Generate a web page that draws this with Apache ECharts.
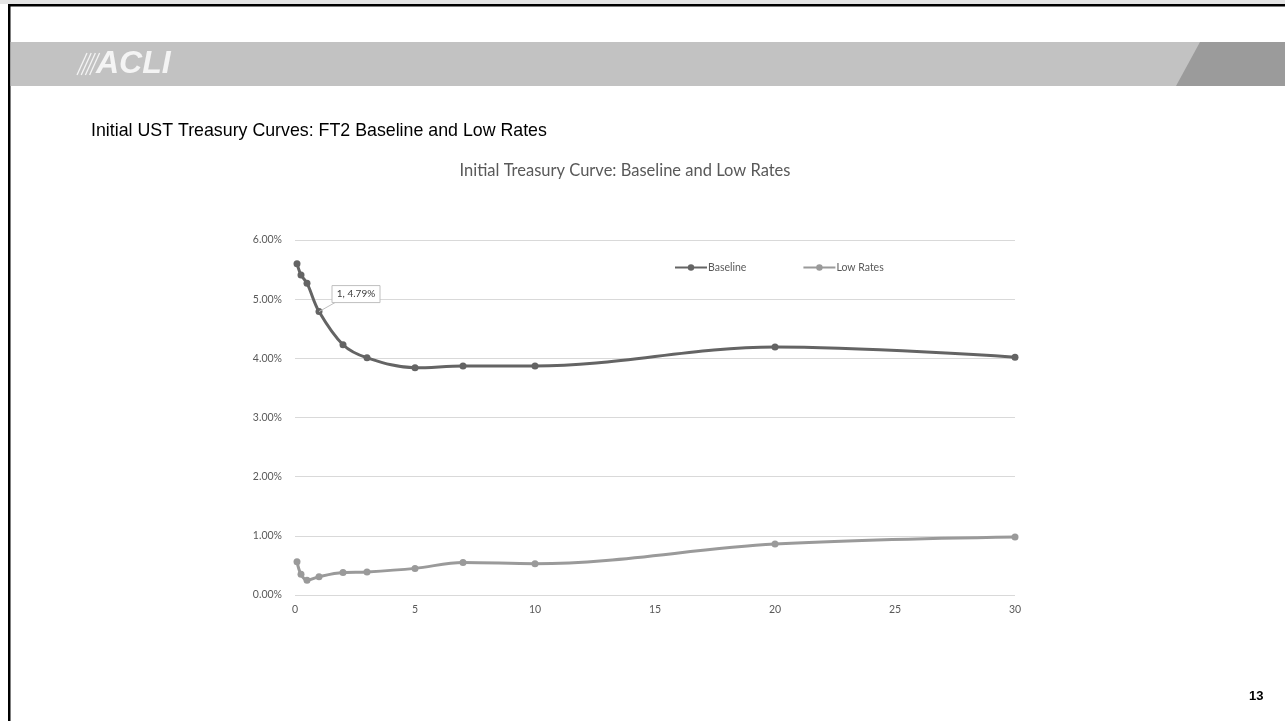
<!DOCTYPE html>
<html>
<head>
<meta charset="utf-8">
<script src="https://cdn.jsdelivr.net/npm/echarts@6/dist/echarts.min.js"></script>
<style>
  html, body { margin: 0; padding: 0; background: #fff; }
  #chart { width: 1285px; height: 721px; }
</style>
</head>
<body>
<div id="chart"></div>
<script>
// Maturities in years (1M, 3M, 6M, 1Y, 2Y, 3Y, 5Y, 7Y, 10Y, 20Y, 30Y)
const maturities = [1 / 12, 0.25, 0.5, 1, 2, 3, 5, 7, 10, 20, 30];
// Yields in percent
const baselineRates = [5.60, 5.41, 5.27, 4.79, 4.23, 4.01, 3.84, 3.87, 3.87, 4.19, 4.02];
const lowRates = [0.56, 0.35, 0.25, 0.31, 0.38, 0.39, 0.45, 0.55, 0.53, 0.86, 0.98];
const seriesNames = ['Baseline', 'Low Rates'];
const xTicks = [0, 5, 10, 15, 20, 25, 30];
const yTicks = [0, 1, 2, 3, 4, 5, 6];
// Point that carries a data callout
const calloutIndex = 3;

const toPairs = (xs, ys) => xs.map((x, i) => [x, ys[i]]);

const chart = echarts.init(document.getElementById('chart'), null, { renderer: 'canvas' });

const axisFont = { color: '#595959', fontSize: 10.5, fontFamily: 'Lato, "Noto Sans", sans-serif' };

const option = {
  backgroundColor: '#ffffff',
  animation: false,
  title: {
    text: 'Initial Treasury Curve: Baseline and Low Rates',
    left: 620,
    textAlign: 'center',
    top: 157,
    textStyle: { color: '#595959', fontSize: 16.5, fontWeight: 'normal', fontFamily: 'Lato, "Noto Sans", sans-serif' }
  },
  legend: {
    left: 669,
    top: 257,
    itemWidth: 32,
    itemHeight: 8,
    itemGap: 56,
    data: seriesNames,
    textStyle: { color: '#595959', fontSize: 10.5, fontFamily: 'Lato, "Noto Sans", sans-serif', padding: [0, 0, 0, -4] }
  },
  grid: { left: 295, right: 270, top: 240, bottom: 126 },
  xAxis: {
    type: 'value',
    min: xTicks[0],
    max: xTicks[xTicks.length - 1],
    interval: 5,
    axisLine: { show: false },
    axisTick: { show: false },
    splitLine: { show: false },
    axisLabel: Object.assign({ margin: 9 }, axisFont)
  },
  yAxis: {
    type: 'value',
    min: yTicks[0],
    max: yTicks[yTicks.length - 1],
    interval: 1,
    axisLine: { show: false },
    axisTick: { show: false },
    splitLine: { lineStyle: { color: '#d9d9d9', width: 1 } },
    axisLabel: Object.assign({ margin: 13, formatter: v => v.toFixed(2) + '%' }, axisFont)
  },
  series: [
    {
      name: seriesNames[0],
      type: 'line',
      smooth: 0.35,
      data: toPairs(maturities, baselineRates),
      symbol: 'circle',
      symbolSize: 7,
      itemStyle: { color: '#646464' },
      lineStyle: { color: '#646464', width: 3 }
    },
    {
      name: seriesNames[1],
      type: 'line',
      smooth: 0.35,
      data: toPairs(maturities, lowRates),
      symbol: 'circle',
      symbolSize: 7,
      itemStyle: { color: '#9a9a9a' },
      lineStyle: { color: '#9a9a9a', width: 3 }
    }
  ]
};

chart.setOption(option);

// Slide frame, header band, logo, heading, page number and the data callout
const pt = chart.convertToPixel({ gridIndex: 0 }, [maturities[calloutIndex], baselineRates[calloutIndex]]);
const calloutText = maturities[calloutIndex] + ', ' + baselineRates[calloutIndex].toFixed(2) + '%';
const boxX = pt[0] + 13, boxY = pt[1] - 26, boxW = 48, boxH = 17;

const slashes = [0, 1, 2, 3].map(i => ({
  type: 'line',
  shape: { x1: 77 + i * 4.2, y1: 75, x2: 87 + i * 4.2, y2: 53 },
  style: { stroke: '#f4f4f4', lineWidth: 1.3 }
}));

chart.setOption({
  graphic: [
    { type: 'rect', shape: { x: 0, y: 0, width: 1285, height: 4 }, style: { fill: '#e4e4e4' }, silent: true },
    { type: 'rect', shape: { x: 8, y: 4, width: 1277, height: 2.5 }, style: { fill: '#000' }, silent: true },
    { type: 'rect', shape: { x: 8, y: 4, width: 2.5, height: 717 }, style: { fill: '#000' }, silent: true },
    { type: 'rect', shape: { x: 10.5, y: 42, width: 1274.5, height: 44 }, style: { fill: '#c2c2c2' }, silent: true },
    { type: 'polygon', shape: { points: [[1200, 42], [1285, 42], [1285, 86], [1176, 86]] }, style: { fill: '#9b9b9b' }, silent: true },
    ...slashes,
    {
      type: 'text', left: 96, top: 48,
      style: { text: 'ACLI', fill: '#f4f4f4', fontSize: 32, fontWeight: 'bold', fontStyle: 'italic', fontFamily: '"Liberation Sans", Arial, sans-serif' }
    },
    {
      type: 'text', left: 91, top: 122,
      style: { text: 'Initial UST Treasury Curves: FT2 Baseline and Low Rates', fill: '#000', fontSize: 17.8, fontFamily: '"Liberation Sans", Arial, sans-serif' }
    },
    {
      type: 'text', left: 1249, top: 690,
      style: { text: '13', fill: '#000', fontSize: 13, fontWeight: 'bold', fontFamily: '"Liberation Sans", Arial, sans-serif' }
    },
    {
      type: 'line', z: 100,
      shape: { x1: pt[0], y1: pt[1], x2: boxX + 3, y2: boxY + boxH },
      style: { stroke: '#bfbfbf', lineWidth: 1 }
    },
    {
      type: 'rect', z: 100,
      shape: { x: boxX, y: boxY, width: boxW, height: boxH },
      style: { fill: '#fff', stroke: '#bfbfbf', lineWidth: 1 }
    },
    {
      type: 'text', z: 101,
      x: boxX + boxW / 2, y: boxY + boxH / 2,
      style: { text: calloutText, fill: '#404040', fontSize: 10, align: 'center', verticalAlign: 'middle', fontFamily: 'Lato, "Noto Sans", sans-serif' }
    }
  ]
});
</script>
</body>
</html>
